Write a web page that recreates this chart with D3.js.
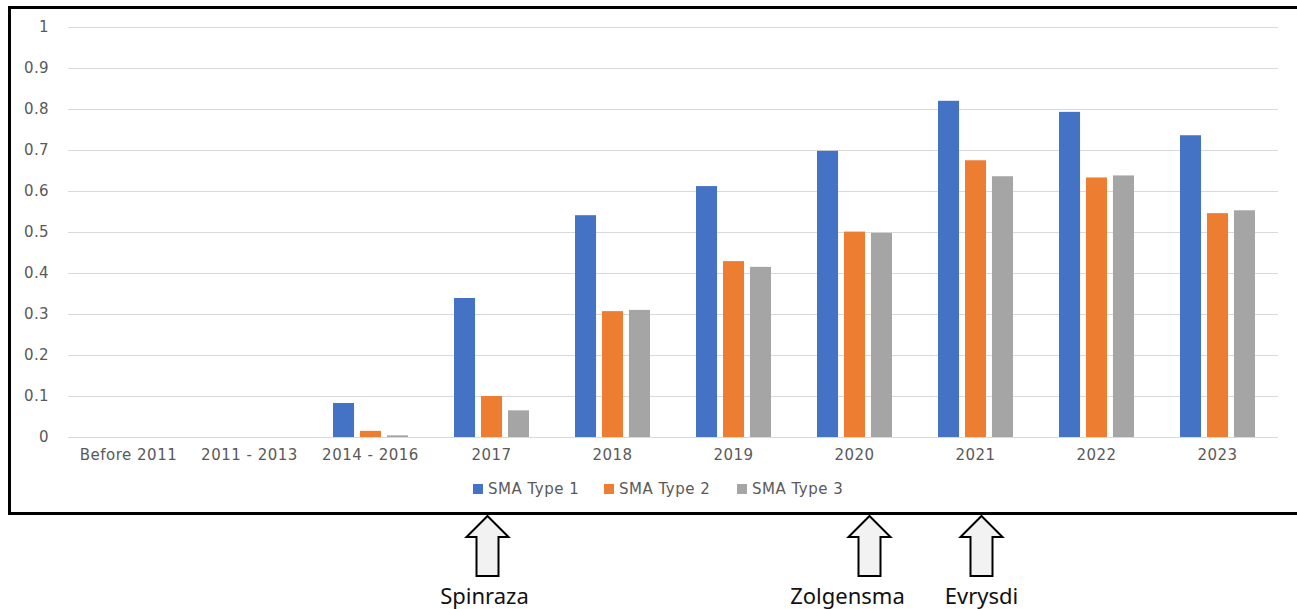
<!DOCTYPE html>
<html>
<head>
<meta charset="utf-8">
<script src="https://cdn.jsdelivr.net/npm/d3@7"></script>
<style>
  body { margin: 0; background: #fff; }
  svg { display: block; }
</style>
</head>
<body>
<script>
var categories = ["Before 2011", "2011 - 2013", "2014 - 2016", "2017", "2018", "2019", "2020", "2021", "2022", "2023"];
var seriesNames = ["SMA Type 1", "SMA Type 2", "SMA Type 3"];
var type1 = [0, 0, 0.083, 0.339, 0.541, 0.612, 0.698, 0.820, 0.793, 0.736];
var type2 = [0, 0, 0.015, 0.100, 0.307, 0.429, 0.501, 0.675, 0.633, 0.546];
var type3 = [0, 0, 0.004, 0.065, 0.310, 0.415, 0.498, 0.636, 0.638, 0.553];
var yTicks = [0, 0.1, 0.2, 0.3, 0.4, 0.5, 0.6, 0.7, 0.8, 0.9, 1];
var drugs = ["Spinraza", "Zolgensma", "Evrysdi"];
var drugCategories = ["2017", "2020", "2021"];

var colors = ["#4472c4", "#ed7d31", "#a5a5a5"];
var chartFont = "'DejaVu Sans', sans-serif";
var w = 1297, h = 609;

var svg = d3.select("body").append("svg")
  .attr("width", w)
  .attr("height", h);

// frame
svg.append("rect")
  .attr("x", 9.5).attr("y", 7.5)
  .attr("width", 1300).attr("height", 506)
  .attr("fill", "none")
  .attr("stroke", "#000")
  .attr("stroke-width", 3);

var x = d3.scaleBand()
  .domain(categories)
  .range([68, 1278]);

var y = d3.scaleLinear()
  .domain([0, 1])
  .range([437, 27]);

var xInner = d3.scaleBand()
  .domain(seriesNames)
  .range([0, 75])
  .paddingInner(0.22);

// gridlines + y labels
var yAxis = d3.axisLeft(y)
  .tickValues(yTicks)
  .tickSize(-1210)
  .tickPadding(19)
  .tickFormat(function(d) { return d3.format("")(d); });

var gy = svg.append("g")
  .attr("transform", "translate(68,0)")
  .call(yAxis);
gy.select(".domain").remove();
gy.selectAll(".tick line").attr("stroke", "#d9d9d9").attr("stroke-width", 1);
gy.selectAll(".tick text")
  .attr("fill", "#595959")
  .attr("font-family", chartFont)
  .attr("font-size", "15px")
  .attr("letter-spacing", "0.4px");

// x axis labels
var xAxis = d3.axisBottom(x).tickSize(0).tickPadding(12);
var gx = svg.append("g")
  .attr("transform", "translate(0,437)")
  .call(xAxis);
gx.select(".domain").remove();
gx.selectAll(".tick text")
  .attr("fill", "#595959")
  .attr("font-family", chartFont)
  .attr("font-size", "15px")
  .attr("letter-spacing", "0.5px");

// bars
var allSeries = [type1, type2, type3];
var rows = categories.map(function(c, i) {
  return seriesNames.map(function(s, j) {
    return { cat: c, series: s, value: allSeries[j][i], color: colors[j] };
  });
});

svg.append("g")
  .selectAll("g")
  .data(rows)
  .enter()
  .append("g")
  .attr("transform", function(d) {
    return "translate(" + (x(d[0].cat) + x.bandwidth() / 2 - 37.5) + ",0)";
  })
  .selectAll("rect")
  .data(function(d) { return d; })
  .enter()
  .append("rect")
  .attr("x", function(d) { return xInner(d.series); })
  .attr("y", function(d) { return y(d.value); })
  .attr("width", xInner.bandwidth())
  .attr("height", function(d) { return y(0) - y(d.value); })
  .attr("fill", function(d) { return d.color; });

// legend
var legendX = [473, 604, 737];
var legend = svg.append("g")
  .selectAll("g")
  .data(seriesNames)
  .enter()
  .append("g")
  .attr("transform", function(d, i) { return "translate(" + legendX[i] + ",489)"; });

legend.append("rect")
  .attr("x", 0).attr("y", -5)
  .attr("width", 10).attr("height", 10)
  .attr("fill", function(d, i) { return colors[i]; });

legend.append("text")
  .attr("x", 15)
  .attr("y", 0)
  .attr("dy", "0.35em")
  .attr("fill", "#595959")
  .attr("font-family", chartFont)
  .attr("font-size", "15px")
  .attr("letter-spacing", "0.5px")
  .text(function(d) { return d; });

// arrows
var arrowOffsets = [-4, 15, 6];
var labelOffsets = [-3, -22, 0];
var arrows = svg.append("g")
  .selectAll("g")
  .data(drugs)
  .enter()
  .append("g")
  .attr("transform", function(d, i) {
    return "translate(" + (x(drugCategories[i]) + x.bandwidth() / 2 + arrowOffsets[i]) + ",516)";
  });

arrows.append("path")
  .attr("d", "M0,0 L21,21 L11,21 L11,60 L-11,60 L-11,21 L-21,21 Z")
  .attr("fill", "#f2f2f2")
  .attr("stroke", "#000")
  .attr("stroke-width", 2)
  .attr("stroke-linejoin", "miter");

arrows.append("text")
  .attr("x", function(d, i) { return labelOffsets[i]; })
  .attr("y", 88)
  .attr("text-anchor", "middle")
  .attr("fill", "#111")
  .attr("font-family", "'Noto Sans', sans-serif")
  .attr("font-size", "22px")
  .text(function(d) { return d; });
</script>
</body>
</html>
